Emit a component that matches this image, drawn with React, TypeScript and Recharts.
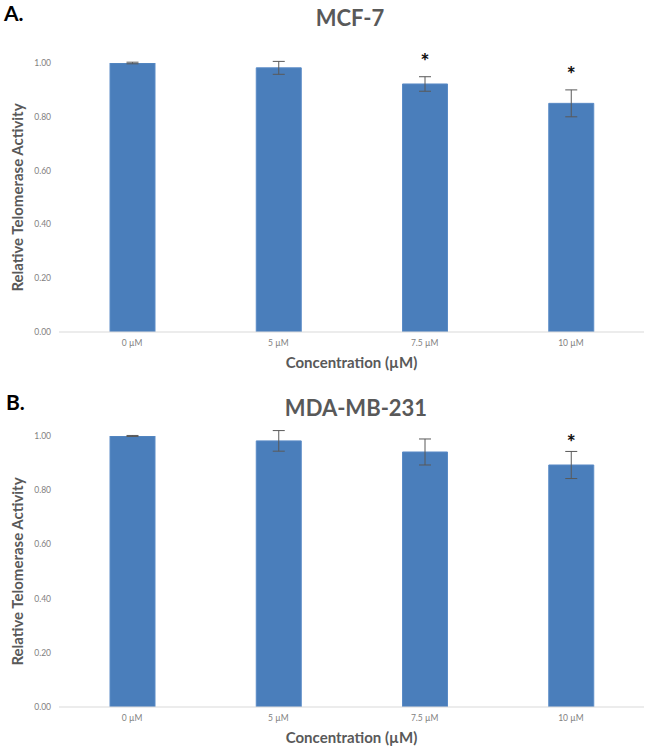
import React from 'react';
import { BarChart, Bar, XAxis, YAxis, ErrorBar, LabelList } from 'recharts';

const concentrations = ['0 µM', '5 µM', '7.5 µM', '10 µM'];
const mcf7Activity = [1.0, 0.982, 0.922, 0.85];
const mcf7Error = [0.003, 0.024, 0.027, 0.05];
const mcf7Significant = [false, false, true, true];
const mdaActivity = [1.0, 0.982, 0.941, 0.893];
const mdaError = [0.002, 0.038, 0.048, 0.05];
const mdaSignificant = [false, false, false, true];
const yTicks = [0, 0.2, 0.4, 0.6, 0.8, 1.0];

const FONT = 'Lato, "Open Sans", sans-serif';
const TITLE_GREY = '#595959';
const TICK_GREY = '#7f7f7f';
const BAR_BLUE = '#4A7EBB';

type Row = { name: string; value: number; err: number; sig: boolean };

const buildRows = (vals: number[], errs: number[], sigs: boolean[]): Row[] =>
  concentrations.map((name, i) => ({ name, value: vals[i], err: errs[i], sig: sigs[i] }));

const mcf7Rows = buildRows(mcf7Activity, mcf7Error, mcf7Significant);
const mdaRows = buildRows(mdaActivity, mdaError, mdaSignificant);

const makeStar = (rows: Row[], gap: number) => (props: any) => {
  const { x, y, width, height, index } = props;
  const row = rows[index];
  if (!row || !row.sig) return null;
  const errPx = (Number(height) * row.err) / row.value;
  const cx = Number(x) + Number(width) / 2;
  const cy = Number(y) - errPx - gap;
  return (
    <text x={cx} y={cy + 12} textAnchor="middle" fontFamily={FONT} fontWeight={900} fontSize={21} fill="#111">
      *
    </text>
  );
};

const XTitle = (props: any) => {
  const vb = props.viewBox || {};
  return (
    <text
      x={vb.x + vb.width / 2}
      y={vb.y + 36}
      textAnchor="middle"
      fontFamily={FONT}
      fontWeight={700}
      fontSize={15}
      fill={TITLE_GREY}
    >
      Concentration (µM)
    </text>
  );
};

const YTitle = (props: any) => {
  const vb = props.viewBox || {};
  const cx = 17;
  const cy = vb.y + vb.height / 2;
  return (
    <text
      x={cx}
      y={cy}
      transform={`rotate(-90, ${cx}, ${cy})`}
      textAnchor="middle"
      dominantBaseline="central"
      fontFamily={FONT}
      fontWeight={700}
      fontSize={15}
      fill={TITLE_GREY}
    >
      Relative Telomerase Activity
    </text>
  );
};

const Panel = ({ rows, top, starGap }: { rows: Row[]; top: number; starGap: number }) => (
  <BarChart
    width={646}
    height={375}
    data={rows}
    margin={{ top, right: 2, bottom: 0, left: 0 }}
    barCategoryGap={0}
  >
    <XAxis
      dataKey="name"
      axisLine={{ stroke: '#d9d9d9' }}
      tickLine={false}
      tick={{ fontSize: 8.5, fill: TICK_GREY, fontFamily: FONT }}
      height={43}
      label={<XTitle />}
    />
    <YAxis
      domain={[0, 1]}
      ticks={yTicks}
      allowDataOverflow
      tickFormatter={(v: number) => v.toFixed(2)}
      axisLine={false}
      tickLine={false}
      tick={{ fontSize: 8.5, fill: TICK_GREY, fontFamily: FONT }}
      width={59}
      label={<YTitle />}
    />
    <Bar dataKey="value" fill={BAR_BLUE} stroke="#5a8bc6" strokeWidth={1} barSize={45} isAnimationActive={false}>
      <ErrorBar dataKey="err" width={6} stroke="#595959" strokeWidth={1} direction="y" />
      <LabelList dataKey="value" content={makeStar(rows, starGap)} />
    </Bar>
  </BarChart>
);

export default function App() {
  return (
    <div style={{ position: 'absolute', left: 0, top: 0, width: 646, height: 750, background: '#fff' }}>
      <div style={{ position: 'absolute', left: 0, top: 0 }}>
        <Panel rows={mcf7Rows} top={63} starGap={20} />
      </div>
      <div style={{ position: 'absolute', left: 0, top: 375 }}>
        <Panel rows={mdaRows} top={61} starGap={13} />
      </div>
      <svg
        width={646}
        height={750}
        style={{ position: 'absolute', left: 0, top: 0, pointerEvents: 'none' }}
      >
        <text x={4} y={21} fontFamily={FONT} fontWeight={700} fontSize={21} fill="#000">A.</text>
        <text x={350} y={26} textAnchor="middle" fontFamily={FONT} fontWeight={700} fontSize={22} fill={TITLE_GREY}>MCF-7</text>
        <text x={6} y={410} fontFamily={FONT} fontWeight={700} fontSize={21} fill="#000">B.</text>
        <text x={356} y={416} textAnchor="middle" fontFamily={FONT} fontWeight={700} fontSize={22} fill={TITLE_GREY}>MDA-MB-231</text>
      </svg>
    </div>
  );
}
